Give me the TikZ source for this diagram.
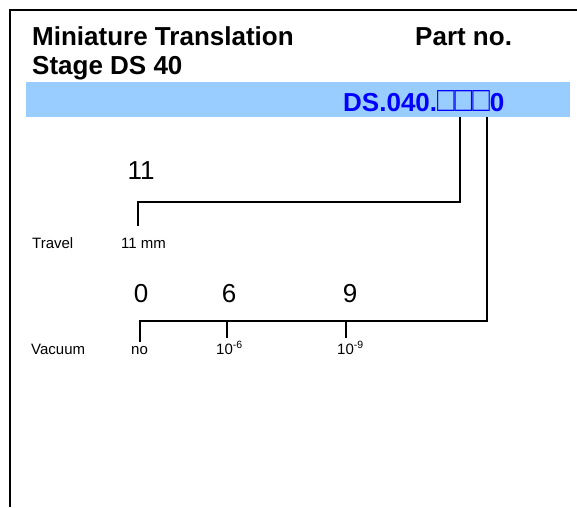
\documentclass[tikz,border=0pt]{standalone}
\usepackage{fontspec}
\setmainfont{Liberation Sans}
\usepackage{tikz}
\usetikzlibrary{positioning}
\definecolor{bandblue}{HTML}{99CCFF}
\definecolor{codeblue}{HTML}{0000FF}

\begin{document}
\begin{tikzpicture}[x=1pt, y=-1pt]
        \tikzstyle{every node}=[inner sep=0pt, anchor=base west]
        \tikzstyle{head}=[font=\fontsize{26}{30}\selectfont\bfseries]
        \tikzstyle{digit}=[font=\fontsize{26}{30}\selectfont, anchor=base]
        \tikzstyle{small}=[font=\fontsize{15}{18}\selectfont]
        \tikzstyle{wire}=[line width=1.6pt]

        \useasboundingbox (0,0) rectangle (577,507);
        \draw[line width=2pt] (577,10) -- (10,10) -- (10,507);
        \fill[bandblue] (26,82) rectangle (570,117);

        \node (title1) [head] at (32,45) {Miniature Translation};
        \node (title2) [head] at (32,74) {Stage DS 40};
        \node (partno) [head] at (415,45) {Part no.};
        \node (code)   [head, text=codeblue] at (343,111) {DS.040.\scalebox{1.12}[1.35]{\mdseries □□□}0};

        \coordinate (selT) at (460,117);
        \coordinate (selV) at (487,117);

        % travel
        \node (t11)    [digit] at (141,179) {11};
        \node (travel) [small] at (32,248) {Travel};
        \node (t11mm)  [small] at (121,248) {11 mm};
        \coordinate (tk)  at (138,202);
        \coordinate (tkb) at (138,226);
        \draw[wire] (selT) |- (tk) -- (tkb);

        % vacuum
        \node (v0) [digit] at (141,302) {0};
        \node (v6) [digit] at (229,302) {6};
        \node (v9) [digit] at (350,302) {9};
        \node (vacuum) [small] at (31,354) {Vacuum};
        \node (vno)    [small] at (131,354) {no};
        \node (v10a)   [small] at (216,354) {10\textsuperscript{-6}};
        \node (v10b)   [small] at (337,354) {10\textsuperscript{-9}};
        \coordinate (vk0)  at (140,321);
        \coordinate (vk0b) at (140,342);
        \coordinate (vk6)  at (227,321);
        \coordinate (vk6b) at (227,338);
        \coordinate (vk9)  at (346,321);
        \coordinate (vk9b) at (346,338);
        \draw[wire] (selV) |- (vk0) -- (vk0b);
        \draw[wire] (vk6) -- (vk6b);
        \draw[wire] (vk9) -- (vk9b);

    \end{tikzpicture}
\end{document}
